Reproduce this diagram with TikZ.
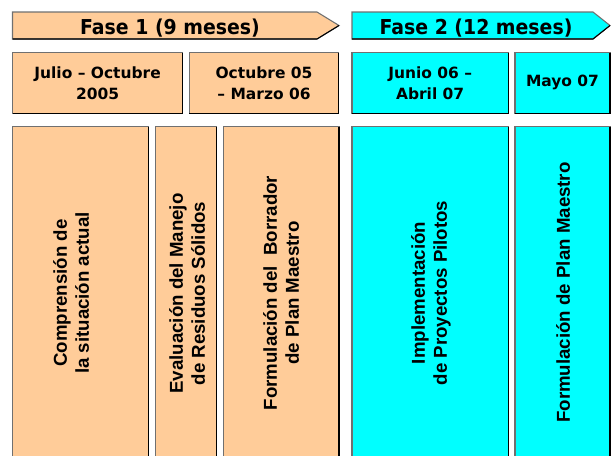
\documentclass[tikz,border=0pt]{standalone}
\usepackage{fontspec}
\setmainfont{Liberation Sans}
\newfontfamily\hdfont[FakeStretch=0.92]{DejaVu Sans}
\newfontfamily\rowfont{DejaVu Sans}
\definecolor{peach}{HTML}{FFCC99}
\definecolor{aqua}{HTML}{00FFFF}
\definecolor{edgegray}{HTML}{707070}
\tikzset{
  box/.style={draw=edgegray, line width=0.8pt, inner sep=0pt, outer sep=0pt},
  hdtext/.style={font=\hdfont\bfseries\fontsize{15.4}{18}\selectfont, anchor=base, inner sep=0pt},
  datetext/.style={font=\rowfont\bfseries\fontsize{11.6}{15.75}\selectfont, align=center, inner sep=0pt},
  vtext/.style={font=\bfseries\fontsize{14}{16.5}\selectfont, align=center, rotate=90, inner sep=0pt},
  darkedge/.style={draw=black, line width=0.8pt}
}
\newcommand{\mybox}[6]{% name, x1, y1, x2, y2, fill
  \node[box, fill=#6, minimum width={(#4-#2)*0.75pt}, minimum height={(#5-#3)*0.75pt}] (#1) at ({(#2+#4)/2},{(#3+#5)/2}) {};
  \draw[darkedge] (#1.north east) -- (#1.south east) -- (#1.south west);
}
\begin{document}
\begin{tikzpicture}[x=0.75pt, y=-0.75pt]
\useasboundingbox (0,0) rectangle (611,455);
% header arrows
\draw[fill=peach, draw=edgegray, line width=0.8pt] (12.5,12) -- (317,12) -- (339,25.5) -- (317,39) -- (12.5,39) -- cycle;
\draw[darkedge] (12.5,39) -- (317,39) -- (339,25.5);
\draw[fill=aqua, draw=edgegray, line width=0.8pt] (352,12) -- (593,12) -- (610,25.5) -- (593,39) -- (352,39) -- cycle;
\draw[darkedge] (352,39) -- (593,39) -- (610,25.5);
\node[hdtext] (h1) at (170,34.3) {Fase 1 (9 meses)};
\node[hdtext] (h2) at (476,34.3) {Fase 2 (12 meses)};
% row 2
\mybox{d1}{12.5}{52.5}{182.7}{113.3}{peach}
\mybox{d2}{189.3}{52.5}{338.7}{113.3}{peach}
\mybox{d3}{352}{52.5}{508.3}{113.3}{aqua}
\mybox{d4}{515}{52.5}{610}{113.3}{aqua}
\node[datetext] (t1) at (d1.center) {Julio – Octubre\\2005};
\node[datetext] (t2) at (d2.center) {Octubre 05\\– Marzo 06};
\node[datetext] (t3) at (d3.center) {Junio 06 –\\Abril 07};
\node[datetext] (t4) at (d4.center) {Mayo 07};
% row 3
\mybox{a1}{12.5}{126.7}{148.7}{462}{peach}
\mybox{a2}{155.3}{126.7}{216.7}{462}{peach}
\mybox{a3}{223.3}{126.7}{339}{462}{peach}
\mybox{a4}{352}{126.7}{508.3}{462}{aqua}
\mybox{a5}{515}{126.7}{610}{462}{aqua}
\node[vtext] (v1) at (71,293) {Comprensión de\\la situación actual};
\node[vtext] (v2) at (187,293.5) {Evaluación del Manejo\\de Residuos Sólidos};
\node[vtext] (v3) at (281,293) {Formulación del\ \ Borrador\\de Plan Maestro};
\node[vtext] (v4) at (431,293) {Implementación\\de Proyectos Pilotos};
\node[vtext] (v5) at (563,292.5) {Formulación de Plan Maestro};
\end{tikzpicture}
\end{document}
